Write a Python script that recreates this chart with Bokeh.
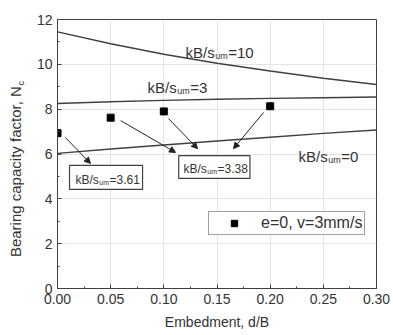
import numpy as np
from bokeh.plotting import figure
from bokeh.layouts import row
from bokeh.models import (Label, Arrow, NormalHead, FixedTicker,
                          NumeralTickFormatter, Legend, LegendItem)
from bokeh.embed import file_html
from bokeh.resources import INLINE

# ---------------- data ----------------
embedment = [0.00, 0.05, 0.10, 0.15, 0.20, 0.25, 0.30]
nc_kb10 = [11.45, 10.92, 10.45, 10.05, 9.70, 9.38, 9.10]
nc_kb3 = [8.25, 8.33, 8.39, 8.44, 8.48, 8.51, 8.54]
nc_kb0 = [6.03, 6.22, 6.40, 6.58, 6.75, 6.92, 7.07]

test_d = [0.00, 0.05, 0.10, 0.20]
test_nc = [6.93, 7.62, 7.90, 8.13]
test_name = "e=0, v=3mm/s"

x_ticks = [0.00, 0.05, 0.10, 0.15, 0.20, 0.25, 0.30]
x_minor = [0.025, 0.075, 0.125, 0.175, 0.225, 0.275]
y_ticks = [0, 2, 4, 6, 8, 10, 12]
y_minor = [1, 3, 5, 7, 9, 11]

curve_values = ["10", "3", "0"]
curve_label_x = [0.1204, 0.0846, 0.2267]
curve_label_y = [10.53, 8.97, 5.89]

fit_values = ["3.61", "3.38"]
fit_box_left = [0.0113, 0.1140]
fit_box_right = [0.0800, 0.1810]
fit_box_bottom = [4.42, 4.91]
fit_box_top = [5.49, 5.93]
fit_text_x = [0.0169, 0.1185]
fit_text_y = [4.86, 5.35]

arrow_x0 = [0.0075, 0.0594, 0.1044, 0.1938]
arrow_y0 = [6.73, 7.49, 7.58, 7.85]
arrow_x1 = [0.0310, 0.1110, 0.1317, 0.1655]
arrow_y1 = [5.58, 6.07, 6.24, 6.24]

y_title = "Bearing capacity factor, N"
y_title_sub = "c"
x_title = "Embedment, d/B"

FONT = "Liberation Sans"
INK = "#333333"
LINE = "#404040"

# Arial / Liberation Sans advance widths (per 1000 em)
AW = {'k': 500, 'B': 667, '/': 278, 's': 500, 'u': 556, 'm': 833, '=': 584,
      '.': 278, ' ': 278, ',': 278, 'N': 722, 'e': 556, 'a': 556, 'r': 333,
      'i': 222, 'n': 556, 'g': 556, 'c': 500, 'p': 556, 't': 278, 'y': 500,
      'f': 278, 'o': 556}


def tw(s, size):
    return sum(AW.get(ch, 556) for ch in s) * size / 1000.0


W, H = 393, 335
TW = 32  # width of the strip holding the vertical title
BT, BB = 19, 47  # top / bottom borders of the plotting frame

p = figure(width=W - TW, height=H, x_range=(0, 0.30), y_range=(0, 12),
           output_backend="svg", toolbar_location=None,
           min_border_left=57 - TW, min_border_right=17, min_border_top=BT,
           min_border_bottom=BB)

p.background_fill_color = "white"
p.border_fill_color = "white"
p.outline_line_color = LINE
p.outline_line_width = 1

# axes
p.xaxis.ticker = FixedTicker(ticks=x_ticks, minor_ticks=x_minor)
p.yaxis.ticker = FixedTicker(ticks=y_ticks, minor_ticks=y_minor)
p.xaxis.formatter = NumeralTickFormatter(format="0.00")
for ax in (p.xaxis, p.yaxis):
    ax.axis_line_color = LINE
    ax.major_tick_line_color = LINE
    ax.minor_tick_line_color = LINE
    ax.major_tick_in = 4
    ax.major_tick_out = 0
    ax.minor_tick_in = 2
    ax.minor_tick_out = 0
    ax.major_label_text_font = FONT
    ax.major_label_text_font_size = "14px"
    ax.major_label_text_color = INK
p.xaxis.major_label_standoff = 5
p.yaxis.major_label_standoff = 5
p.xaxis.axis_label = x_title
p.xaxis.axis_label_text_font = FONT
p.xaxis.axis_label_text_font_size = "14px"
p.xaxis.axis_label_text_font_style = "normal"
p.xaxis.axis_label_text_color = INK
p.xaxis.axis_label_standoff = 7

p.xgrid.ticker = FixedTicker(ticks=x_ticks)
p.ygrid.ticker = FixedTicker(ticks=y_ticks)
p.grid.grid_line_color = "#e4e4e4"
p.grid.grid_line_width = 1

# curves
for ys in (nc_kb10, nc_kb3, nc_kb0):
    p.line(embedment, ys, line_color=LINE, line_width=1.4)

# annotation boxes (drawn under the text)
p.quad(left=fit_box_left, right=fit_box_right, bottom=fit_box_bottom,
       top=fit_box_top, fill_color="white", line_color=LINE, line_width=1.2)

# arrows
for xs, ys, xe, ye in zip(arrow_x0, arrow_y0, arrow_x1, arrow_y1):
    p.add_layout(Arrow(x_start=xs, y_start=ys, x_end=xe, y_end=ye,
                       line_color="#222222", line_width=1,
                       end=NormalHead(size=6, fill_color="#222222",
                                      line_color="#222222")))

# measured points
pts = p.scatter(test_d, test_nc, marker="square", size=7,
                fill_color="black", line_color="black")


def sub_label(x, y, main, sub, tail, size, subsize, drop):
    w1 = tw(main, size)
    w2 = tw(sub, subsize)
    common = dict(x=x, y=y, text_font=FONT, text_color=INK,
                  text_baseline="alphabetic", text_align="left")
    p.add_layout(Label(text=main, text_font_size=f"{size}px", **common))
    p.add_layout(Label(text=sub, text_font_size=f"{subsize}px",
                       x_offset=w1 + 0.5, y_offset=-drop, **common))
    p.add_layout(Label(text=tail, text_font_size=f"{size}px",
                       x_offset=w1 + w2 + 1, **common))


for v, x, y in zip(curve_values, curve_label_x, curve_label_y):
    sub_label(x, y, "kB/s", "um", "=" + v, 15, 9, 4)

for v, x, y in zip(fit_values, fit_text_x, fit_text_y):
    sub_label(x, y, "kB/s", "um", "=" + v, 12, 7, 3)

# legend
legend = Legend(items=[LegendItem(label=test_name, renderers=[pts])],
                location=(151, 53))
legend.label_text_font = FONT
legend.label_text_font_size = "16px"
legend.label_text_color = INK
legend.border_line_color = LINE
legend.border_line_width = 1.2
legend.background_fill_color = "white"
legend.background_fill_alpha = 1
legend.padding = 2
legend.margin = 0
legend.spacing = 0
legend.glyph_width = 46
legend.glyph_height = 16
legend.label_height = 16
legend.label_standoff = 4
p.add_layout(legend)

# strip on the left with the vertical axis title; its frame is aligned with
# the main frame, so its y range maps 1:1 to page pixels (y = H - pixel_row)
t = figure(width=TW, height=H, x_range=(0, TW), y_range=(BB, H - BT),
           output_backend="svg", toolbar_location=None,
           min_border_left=0, min_border_right=0, min_border_top=BT,
           min_border_bottom=BB)
t.axis.visible = False
t.grid.visible = False
t.outline_line_color = None
t.background_fill_color = "white"
t.border_fill_color = "white"
title_len = tw(y_title, 15)
start_row = 257  # page row where the title starts (bottom end)
t.add_layout(Label(x=15, y=H - start_row + title_len / 2, text=y_title,
                   angle=np.pi / 2, text_font=FONT, text_font_size="15px",
                   text_color=INK, text_align="center",
                   text_baseline="middle"))
t.add_layout(Label(x=20.5, y=H - start_row + title_len + 2.5,
                   text=y_title_sub, angle=np.pi / 2,
                   text_font=FONT, text_font_size="9px", text_color=INK,
                   text_align="center", text_baseline="middle"))

layout = row(t, p, spacing=0)
open("out.html", "w").write(file_html(layout, INLINE))
